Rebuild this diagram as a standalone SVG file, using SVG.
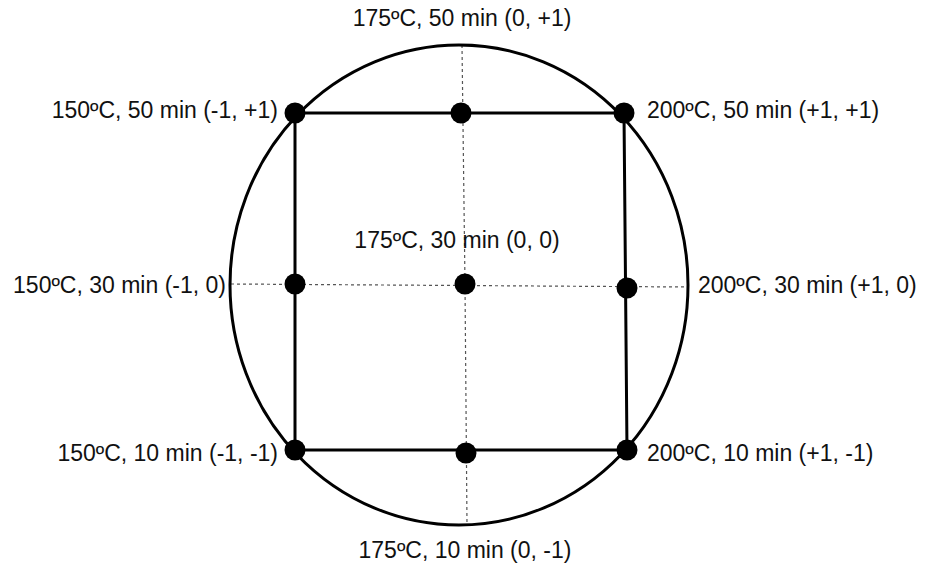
<svg xmlns="http://www.w3.org/2000/svg" width="931" height="564" viewBox="0 0 931 564">
<style>
.lbl{font-family:"Liberation Sans",Arial,sans-serif;font-size:23px;fill:#111}
.guide{stroke:#555;stroke-width:1.2;stroke-dasharray:3 3;fill:none}
.edge{stroke:#000;stroke-width:3;fill:none}
.dot{fill:#000}
</style>
<rect width="931" height="564" fill="#fff"/>
<g id="connectors">
<line class="guide" x1="231" y1="284" x2="688" y2="287"/>
<polyline class="guide" points="462,45 465,284 467,525"/>
<ellipse class="edge" cx="459" cy="285" rx="229" ry="240"/>
<polygon class="edge" points="295,113 624,113 627,450 295,450"/>
</g>
<g id="n_tl"><circle class="dot" cx="295" cy="113" r="10.5"/><text class="lbl" x="278" y="118" text-anchor="end">150ºC, 50 min (-1, +1)</text></g>
<g id="n_tm"><circle class="dot" cx="461" cy="113" r="10.5"/><text class="lbl" x="462" y="26" text-anchor="middle">175ºC, 50 min (0, +1)</text></g>
<g id="n_tr"><circle class="dot" cx="624" cy="113" r="10.5"/><text class="lbl" x="647" y="118">200ºC, 50 min (+1, +1)</text></g>
<g id="n_ml"><circle class="dot" cx="295" cy="284" r="10.5"/><text class="lbl" x="226" y="293" text-anchor="end">150ºC, 30 min (-1, 0)</text></g>
<g id="n_c"><circle class="dot" cx="465" cy="284" r="10.5"/><text class="lbl" x="457" y="248" text-anchor="middle">175ºC, 30 min (0, 0)</text></g>
<g id="n_mr"><circle class="dot" cx="627" cy="288" r="10.5"/><text class="lbl" x="698" y="293">200ºC, 30 min (+1, 0)</text></g>
<g id="n_bl"><circle class="dot" cx="295" cy="450" r="10.5"/><text class="lbl" x="278" y="461" text-anchor="end">150ºC, 10 min (-1, -1)</text></g>
<g id="n_bm"><circle class="dot" cx="466" cy="453" r="10.5"/><text class="lbl" x="465" y="558" text-anchor="middle">175ºC, 10 min (0, -1)</text></g>
<g id="n_br"><circle class="dot" cx="627" cy="450" r="10.5"/><text class="lbl" x="647" y="461">200ºC, 10 min (+1, -1)</text></g>
</svg>
